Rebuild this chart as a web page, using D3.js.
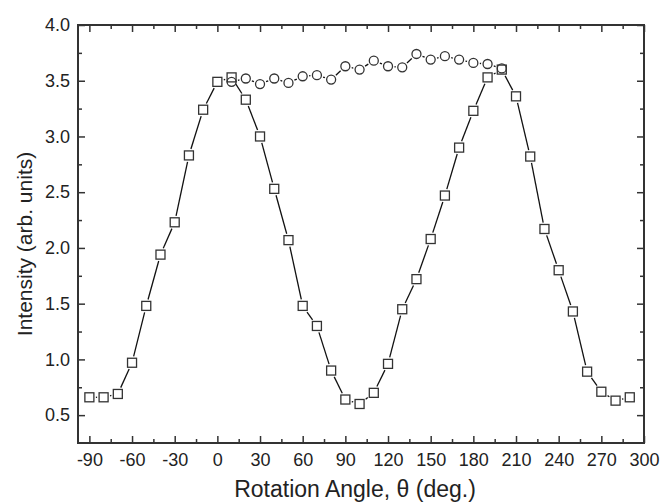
<!DOCTYPE html>
<html>
<head>
<meta charset="utf-8">
<script src="https://cdn.jsdelivr.net/npm/d3@7"></script>
<style>
  body { margin: 0; background: #fff; }
  text { font-family: "Liberation Sans", Arial, sans-serif; fill: #222; }
</style>
</head>
<body>
<div id="chart_area"></div>
<script>
// square series: -90 .. 290 step 10
var angleSq = [-90, -80, -70, -60, -50, -40, -30, -20, -10, 0, 10, 20, 30, 40, 50, 60, 70, 80, 90,
    100, 110, 120, 130, 140, 150, 160, 170, 180, 190, 200, 210, 220, 230, 240, 250, 260, 270, 280, 290];
var intensitySq = [0.66, 0.66, 0.69, 0.97, 1.48, 1.94, 2.23, 2.83, 3.24, 3.49, 3.53, 3.33, 3.00, 2.53, 2.07, 1.48, 1.30, 0.90, 0.64,
    0.60, 0.70, 0.96, 1.45, 1.72, 2.08, 2.47, 2.90, 3.23, 3.53, 3.60, 3.36, 2.82, 2.17, 1.80, 1.43, 0.89, 0.71, 0.63, 0.66];

// circle series: 10 .. 200 step 10
var angleCi = [10, 20, 30, 40, 50, 60, 70, 80, 90, 100, 110, 120, 130, 140, 150, 160, 170, 180, 190, 200];
var intensityCi = [3.49, 3.52, 3.47, 3.52, 3.48, 3.54, 3.55, 3.51, 3.63, 3.60, 3.68, 3.63, 3.62, 3.74, 3.69, 3.72, 3.69, 3.66, 3.65, 3.61];

var xMajor = [-90, -60, -30, 0, 30, 60, 90, 120, 150, 180, 210, 240, 270, 300];
var xMinor = [-75, -45, -15, 15, 45, 75, 105, 135, 165, 195, 225, 255, 285];
var yMajor = [0.5, 1.0, 1.5, 2.0, 2.5, 3.0, 3.5, 4.0];
var yMinor = [0.75, 1.25, 1.75, 2.25, 2.75, 3.25, 3.75];

var W = 662, H = 502;
var margin = {left: 78, right: 644, top: 25, bottom: 443};

var svg = d3.select("#chart_area")
    .append("svg")
        .attr("width", W)
        .attr("height", H);

var x = d3.scaleLinear().domain([-98, 300]).range([margin.left, margin.right]);
var y = d3.scaleLinear().domain([0.25, 4.0]).range([margin.bottom, margin.top]);

function styleAxis(g) {
    g.select(".domain").remove();
    g.selectAll("line").attr("stroke", "#333").attr("stroke-width", 1.5);
    g.selectAll("text").attr("font-size", "18px").attr("fill", "#222");
}

function addAxis(axis, tx, ty) {
    svg.append("g")
        .attr("transform", "translate(" + tx + "," + ty + ")")
        .call(axis)
        .call(styleAxis);
}

// bottom axis
addAxis(d3.axisBottom(x).tickValues(xMajor).tickSizeInner(-7).tickSizeOuter(0).tickPadding(10)
    .tickFormat(function(d) { return String(d); }), 0, margin.bottom);
addAxis(d3.axisBottom(x).tickValues(xMinor).tickSizeInner(-4).tickSizeOuter(0).tickFormat(""), 0, margin.bottom);

// top axis
addAxis(d3.axisTop(x).tickValues(xMajor).tickSizeInner(-7).tickSizeOuter(0).tickFormat(""), 0, margin.top);
addAxis(d3.axisTop(x).tickValues(xMinor).tickSizeInner(-4).tickSizeOuter(0).tickFormat(""), 0, margin.top);

// left axis
addAxis(d3.axisLeft(y).tickValues(yMajor).tickSizeInner(-7).tickSizeOuter(0).tickPadding(8)
    .tickFormat(function(d) { return d.toFixed(1); }), margin.left, 0);
addAxis(d3.axisLeft(y).tickValues(yMinor).tickSizeInner(-4).tickSizeOuter(0).tickFormat(""), margin.left, 0);

// right axis
addAxis(d3.axisRight(y).tickValues(yMajor).tickSizeInner(-7).tickSizeOuter(0).tickFormat(""), margin.right, 0);
addAxis(d3.axisRight(y).tickValues(yMinor).tickSizeInner(-4).tickSizeOuter(0).tickFormat(""), margin.right, 0);

// frame
svg.append("rect")
    .attr("x", margin.left)
    .attr("y", margin.top)
    .attr("width", margin.right - margin.left)
    .attr("height", margin.bottom - margin.top)
    .attr("fill", "none")
    .attr("stroke", "#333")
    .attr("stroke-width", 2);

//x label
svg.append("text")
    .attr("x", 355)
    .attr("y", 497)
    .attr("font-size", "23px")
    .attr("text-anchor", "middle")
    .text("Rotation Angle, \u03B8 (deg.)");

//y label
svg.append("text")
    .attr("transform", "translate(32,244) rotate(-90)")
    .attr("font-size", "21px")
    .attr("text-anchor", "middle")
    .text("Intensity (arb. units)");

var half = 4.5, gap = 2;

// segments between markers, with a small gap around each marker (Origin style)
function drawSegments(xs, ys, shape) {
    var pts = xs.map(function(a, i) { return [x(a), y(ys[i])]; });
    var segs = [];
    for (var i = 0; i < pts.length - 1; i++) {
        var p = pts[i], q = pts[i + 1];
        var dx = q[0] - p[0], dy = q[1] - p[1];
        var len = Math.sqrt(dx * dx + dy * dy);
        var ux = dx / len, uy = dy / len;
        var t = shape === "square" ? half / Math.max(Math.abs(ux), Math.abs(uy)) : half;
        t += gap;
        if (len > 2 * t) {
            segs.push([p[0] + ux * t, p[1] + uy * t, q[0] - ux * t, q[1] - uy * t]);
        }
    }
    svg.append("g").selectAll("line")
        .data(segs)
        .enter().append("line")
            .attr("x1", function(d) { return d[0]; })
            .attr("y1", function(d) { return d[1]; })
            .attr("x2", function(d) { return d[2]; })
            .attr("y2", function(d) { return d[3]; })
            .attr("stroke", "#111")
            .attr("stroke-width", 1.3);
}

drawSegments(angleSq, intensitySq, "square");
drawSegments(angleCi, intensityCi, "circle");

svg.append("g").selectAll("rect")
    .data(angleSq)
    .enter().append("rect")
        .attr("x", function(d) { return x(d) - half; })
        .attr("y", function(d, i) { return y(intensitySq[i]) - half; })
        .attr("width", 2 * half)
        .attr("height", 2 * half)
        .attr("fill", "#fff")
        .attr("stroke", "#333")
        .attr("stroke-width", 1.3);

svg.append("g").selectAll("circle")
    .data(angleCi)
    .enter().append("circle")
        .attr("cx", function(d) { return x(d); })
        .attr("cy", function(d, i) { return y(intensityCi[i]); })
        .attr("r", half)
        .attr("fill", "none")
        .attr("stroke", "#333")
        .attr("stroke-width", 1.3);
</script>
</body>
</html>
